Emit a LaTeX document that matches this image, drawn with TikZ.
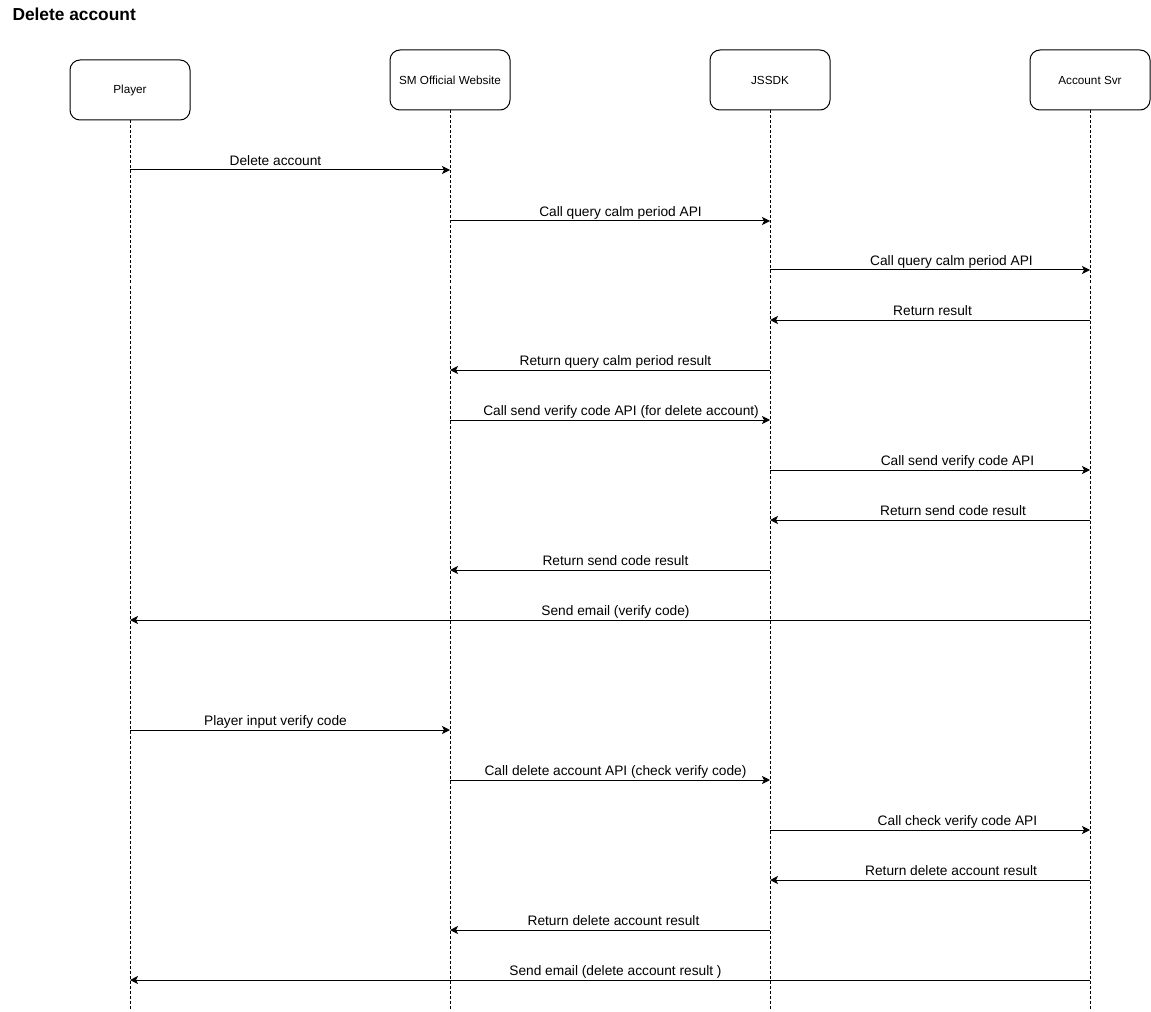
\documentclass[tikz,border=0pt]{standalone}
\usepackage{fontspec}
\setmainfont{Liberation Sans}
\usetikzlibrary{arrows.meta}

\begin{document}
\begin{tikzpicture}[
        x=0.75pt, y=-0.75pt, % one unit = one pixel of the page
        line width=0.75pt,
        font=\fontsize{10.3}{12}\selectfont,
        actor/.style={rectangle, draw=black, rounded corners=7.5pt, minimum width=90pt, minimum height=45pt, align=center, font=\fontsize{8.8}{10}\selectfont},
        life/.style={dash pattern=on 2.25pt off 1.5pt},
        msg/.style={-{Stealth[length=6pt, width=6pt, inset=1.5pt]}},
        lbl/.style={anchor=base, inner sep=0pt, yshift=3.5pt}
    ]

    % page frame
    \useasboundingbox (0,0) rectangle (1151,1012);

    % title
    \node[anchor=base west, inner sep=0pt, font=\fontsize{13}{15}\selectfont\bfseries] (title) at (12,21) {Delete account};

    % participants
    \node[actor] (player) at (130, 90) {Player};
    \node[actor] (site) at (450, 80) {SM Official Website};
    \node[actor] (sdk) at (770, 80) {JSSDK};
    \node[actor] (acc) at (1090, 80) {Account Svr};

    % lifelines
    \foreach \p in {player, site, sdk, acc} {
        \draw[life] (\p.south) -- (\p |- 0,1010);
    }

    % query calm period
    \draw[msg] (player |- 0,170) -- node[lbl, xshift=-10.9pt] {Delete account} (site |- 0,170);
    \draw[msg] (site |- 0,221) -- node[lbl, xshift=7.9pt] {Call query calm period API} (sdk |- 0,221);
    \draw[msg] (sdk |- 0,270) -- node[lbl, xshift=16.1pt] {Call query calm period API} (acc |- 0,270);
    \draw[msg] (acc |- 0,320) -- node[lbl, xshift=1.9pt] {Return result} (sdk |- 0,320);
    \draw[msg] (sdk |- 0,370) -- node[lbl, xshift=4.1pt] {Return query calm period result} (site |- 0,370);

    % send verify code
    \draw[msg] (site |- 0,420) -- node[lbl, xshift=8.3pt] {Call send verify code API (for delete account)} (sdk |- 0,420);
    \draw[msg] (sdk |- 0,470) -- node[lbl, xshift=20.6pt] {Call send verify code API} (acc |- 0,470);
    \draw[msg] (acc |- 0,520) -- node[lbl, xshift=17.3pt] {Return send code result} (sdk |- 0,520);
    \draw[msg] (sdk |- 0,570) -- node[lbl, xshift=4.1pt] {Return send code result} (site |- 0,570);
    \draw[msg] (acc |- 0,620) -- node[lbl, xshift=4.1pt] {Send email (verify code)} (player |- 0,620);

    % delete with code
    \draw[msg] (player |- 0,730) -- node[lbl, xshift=-10.9pt] {Player input verify code} (site |- 0,730);
    \draw[msg] (site |- 0,780) -- node[lbl, xshift=4.1pt] {Call delete account API (check verify code)} (sdk |- 0,780);
    \draw[msg] (sdk |- 0,830) -- node[lbl, xshift=20.6pt] {Call check verify code API} (acc |- 0,830);
    \draw[msg] (acc |- 0,880) -- node[lbl, xshift=15.8pt] {Return delete account result} (sdk |- 0,880);
    \draw[msg] (sdk |- 0,930) -- node[lbl, xshift=2.6pt] {Return delete account result} (site |- 0,930);
    \draw[msg] (acc |- 0,980) -- node[lbl, xshift=4.1pt] {Send email (delete account result )} (player |- 0,980);

\end{tikzpicture}
\end{document}
